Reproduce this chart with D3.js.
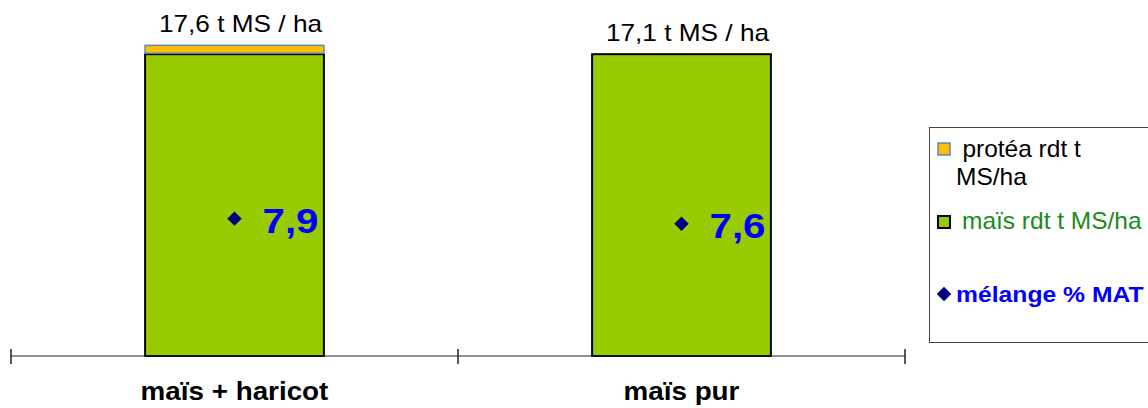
<!DOCTYPE html>
<html>
<head>
<meta charset="utf-8">
<script src="https://cdn.jsdelivr.net/npm/d3@7"></script>
<style>
  body { margin: 0; background: #fff; }
  text { font-family: "Liberation Sans", Arial, sans-serif; }
</style>
</head>
<body>
<div id="chart"></div>
<script>
// data
var categories = ["maïs + haricot", "maïs pur"];
var maisRdt = [17.1, 17.1];
var proteaRdt = [0.5, 0];
var totalLabels = ["17,6 t MS / ha", "17,1 t MS / ha"];
var melangeMAT = [7.9, 7.6];
var matLabels = ["7,9", "7,6"];
var legendNames = ["protéa rdt t MS/ha", "maïs rdt t MS/ha", "mélange % MAT"];

var W = 1148, H = 408;

var svg = d3.select("#chart").append("svg")
  .attr("width", W)
  .attr("height", H);

var x = d3.scaleBand().domain(categories).range([11, 905]).padding(0);
var y = d3.scaleLinear().domain([0, 20]).range([356, 3]);
var y2 = d3.scaleLinear().domain([0, 20.3]).range([356, 3]);

var barW = x.bandwidth() * 0.4;
function barX(c) { return x(c) + (x.bandwidth() - barW) / 2; }
function mid(c) { return x(c) + x.bandwidth() / 2; }

// the original text is a bit wider than Arial, stretch it around its anchor
function stretch(sx) {
  return function(sel) {
    sel.each(function() {
      var t = d3.select(this);
      var ax = +t.attr("x"), ay = +t.attr("y");
      t.attr("transform", "translate(" + ax + "," + ay + ") scale(" + sx + ",1) translate(" + (-ax) + "," + (-ay) + ")");
    });
  };
}

// stacked bars : maïs then protéa on top
svg.selectAll(".mais").data(categories).enter()
  .append("rect")
  .attr("class", "mais")
  .attr("x", function(d) { return barX(d); })
  .attr("y", function(d, i) { return y(maisRdt[i]); })
  .attr("width", barW)
  .attr("height", function(d, i) { return y(0) - y(maisRdt[i]); })
  .attr("fill", "#99CC00")
  .attr("stroke", "#000")
  .attr("stroke-width", 2);

svg.selectAll(".protea").data(categories.filter(function(d, i) { return proteaRdt[i] > 0; })).enter()
  .append("rect")
  .attr("class", "protea")
  .attr("x", function(d) { return barX(d); })
  .attr("y", function(d) { var i = categories.indexOf(d); return y(maisRdt[i] + proteaRdt[i]); })
  .attr("width", barW)
  .attr("height", function(d) { var i = categories.indexOf(d); return y(maisRdt[i]) - y(maisRdt[i] + proteaRdt[i]) - 1; })
  .attr("fill", "#FFC000")
  .attr("stroke", "#5B86C0")
  .attr("stroke-width", 1.5);

// total labels above bars
svg.selectAll(".tot").data(categories).enter()
  .append("text")
  .attr("x", function(d) { return mid(d) + 6; })
  .attr("y", function(d, i) { return y(maisRdt[i] + proteaRdt[i]) - 13; })
  .attr("text-anchor", "middle")
  .attr("font-size", 23)
  .attr("fill", "#000")
  .text(function(d, i) { return totalLabels[i]; })
  .call(stretch(1.14));

// category axis
var axisY = y(0);
svg.append("line")
  .attr("x1", x.range()[0]).attr("x2", x.range()[1])
  .attr("y1", axisY).attr("y2", axisY)
  .attr("stroke", "#222").attr("stroke-width", 1);

var tickPos = categories.map(function(d) { return x(d); }).concat([x.range()[1]]);
svg.selectAll(".tick").data(tickPos).enter()
  .append("line")
  .attr("x1", function(d) { return d; }).attr("x2", function(d) { return d; })
  .attr("y1", axisY - 7).attr("y2", axisY + 8)
  .attr("stroke", "#222").attr("stroke-width", 1.5);

svg.selectAll(".cat").data(categories).enter()
  .append("text")
  .attr("x", function(d) { return mid(d); })
  .attr("y", 400)
  .attr("text-anchor", "middle")
  .attr("font-size", 26)
  .attr("font-weight", "bold")
  .attr("fill", "#000")
  .text(function(d) { return d; })
  .call(stretch(1.07));

// mélange % MAT points
var diamond = d3.symbol().type(d3.symbolSquare).size(105);
svg.selectAll(".pt").data(categories).enter()
  .append("path")
  .attr("d", diamond)
  .attr("transform", function(d, i) { return "translate(" + mid(d) + "," + y2(melangeMAT[i]) + ") rotate(45)"; })
  .attr("fill", "#000080");

svg.selectAll(".mat").data(categories).enter()
  .append("text")
  .attr("x", function(d) { return mid(d) + 28; })
  .attr("y", function(d, i) { return y2(melangeMAT[i]) + 14; })
  .attr("font-size", 36)
  .attr("font-weight", "bold")
  .attr("fill", "#0000FF")
  .text(function(d, i) { return matLabels[i]; })
  .call(stretch(1.12));

// legend
var lg = svg.append("g").attr("class", "legend");
lg.append("rect")
  .attr("x", 929.5).attr("y", 127.5)
  .attr("width", 240).attr("height", 215)
  .attr("fill", "#fff")
  .attr("stroke", "#444").attr("stroke-width", 1);

lg.append("rect")
  .attr("x", 938).attr("y", 143).attr("width", 12).attr("height", 12)
  .attr("fill", "#FFC000").attr("stroke", "#5B86C0").attr("stroke-width", 1.5);
var t1 = lg.append("text").attr("font-size", 23).attr("fill", "#000");
t1.append("tspan").attr("x", 962).attr("y", 157).text("protéa rdt t");
t1.append("tspan").attr("x", 956).attr("y", 185).text("MS/ha");
t1.attr("transform", "translate(956,0) scale(1.065,1) translate(-956,0)");

lg.append("rect")
  .attr("x", 938).attr("y", 216).attr("width", 12).attr("height", 12)
  .attr("fill", "#99CC00").attr("stroke", "#000").attr("stroke-width", 2);
lg.append("text")
  .attr("x", 962).attr("y", 229)
  .attr("font-size", 23).attr("fill", "#1A8A1A")
  .text(legendNames[1])
  .call(stretch(1.065));

lg.append("path")
  .attr("d", diamond)
  .attr("transform", "translate(944,294) rotate(45)")
  .attr("fill", "#000080");
lg.append("text")
  .attr("x", 956).attr("y", 302)
  .attr("font-size", 23).attr("font-weight", "bold").attr("fill", "#0000FF")
  .text(legendNames[2])
  .call(stretch(1.075));
</script>
</body>
</html>
